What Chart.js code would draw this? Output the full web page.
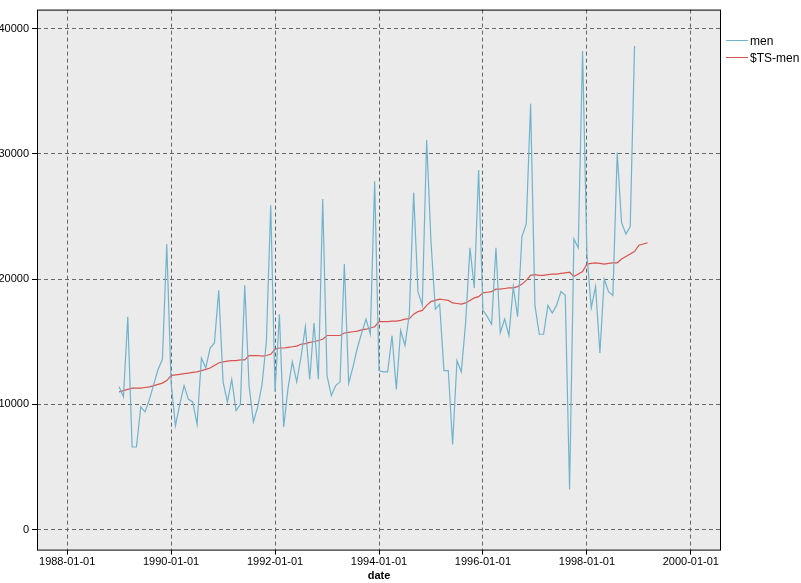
<!DOCTYPE html>
<html><head><meta charset="utf-8">
<script src="https://cdn.jsdelivr.net/npm/chart.js@4"></script>
<style>body{margin:0;background:#fff}#w{position:relative;width:801px;height:583px}
#lg{position:absolute;left:726px;top:32px;font:12px "Liberation Sans",Arial,sans-serif;color:#000}
#lg div{height:17px;display:flex;align-items:center}#lg span{display:inline-block;width:22px;height:1px;margin-right:2px}</style>
</head><body><div id="w"><canvas id="c" width="801" height="583"></canvas>
<div id="lg"><div><span style="background:#6fb3cc"></span>men</div><div><span style="background:#d9534f"></span>$TS-men</div></div></div>
<script>
const startYear = 1989;
const men = [
11400,10600,17000,6600,6600,9800,9400,10400,11600,12800,13600,22800,
11700,8300,10000,11500,10400,10200,8400,13700,12900,14500,14900,19100,
11800,10200,12000,9500,10000,19500,11500,8600,9800,11600,15000,25900,
11000,17200,8200,11300,13400,11800,13800,16200,12000,16500,12000,26400,
12300,10700,11500,11800,21200,11700,13000,14500,15700,16800,15600,27800,
12700,12600,12600,15500,11200,15900,14700,17200,26900,19000,17900,31100,
23000,17600,18000,12700,12700,6800,13500,12600,16500,22500,19300,28700,
17500,17000,16400,22500,15700,16800,15500,19400,17000,23400,24400,34000,
17900,15600,15600,17900,17300,17900,19000,18700,3200,23200,22500,38200,
22000,17700,19400,14100,20000,19000,18700,30100,24500,23600,24200,38600];
const tsMen = [
11000,11100,11200,11300,11300,11300,11350,11400,11500,11600,11700,11900,
12300,12350,12400,12450,12500,12550,12600,12700,12800,12900,13100,13300,
13400,13450,13500,13500,13550,13550,13900,13900,13900,13850,13900,14000,
14400,14500,14500,14550,14600,14650,14800,14850,14950,15000,15100,15200,
15500,15500,15500,15500,15700,15750,15800,15850,15950,16000,16100,16200,
16600,16600,16600,16650,16650,16700,16800,16850,17200,17400,17500,17900,
18200,18300,18400,18350,18300,18100,18050,18000,18100,18300,18500,18600,
18900,18950,19000,19200,19200,19250,19300,19300,19400,19600,19900,20300,
20350,20300,20300,20350,20400,20400,20450,20500,20550,20200,20400,20600,
21200,21250,21300,21250,21200,21250,21300,21300,21600,21800,22000,22200,
22700,22800,22900];
const xTicks = [1988,1990,1992,1994,1996,1998,2000];
const yTicks = [0,10000,20000,30000,40000];
const pts = a => a.map((v,i)=>({x:startYear+i/12, y:v}));
const bg = {id:'bg',beforeDraw(c){const a=c.chartArea,x=c.ctx;x.save();x.fillStyle='#ebebeb';x.fillRect(a.left,a.top,a.right-a.left,a.bottom-a.top);x.restore();},
 afterDraw(c){const a=c.chartArea,x=c.ctx;x.save();x.strokeStyle='#000';x.lineWidth=1;x.strokeRect(a.left+0.5,a.top+0.5,a.right-a.left-1,a.bottom-a.top);x.restore();}};
const font={family:'"Liberation Sans", Arial, sans-serif',size:11};
new Chart(document.getElementById('c'),{type:'line',
data:{datasets:[
 {label:'men',data:pts(men),borderColor:'#6fb3cc',borderWidth:1.2,pointRadius:0,tension:0},
 {label:'$TS-men',data:pts(tsMen),borderColor:'#d9534f',borderWidth:1.2,pointRadius:0,tension:0}]},
options:{responsive:false,animation:false,layout:{padding:{top:0,right:80,left:0,bottom:0}},
 plugins:{legend:{display:false},tooltip:{enabled:false}},
 scales:{
  x:{type:'linear',min:1987.42,max:2000.58,afterBuildTicks(s){s.ticks=xTicks.map(v=>({value:v}));},
   ticks:{font,color:'#000',callback:v=>v+'-01-01',maxRotation:0,padding:1},
   grid:{color:'#666',drawTicks:true,tickLength:5,tickColor:'#000'},border:{display:false,dash:[4,3]},
   title:{display:true,text:'date',font:{...font,weight:'bold'},color:'#000',padding:{top:0,bottom:0}}},
  y:{min:-1590,max:41510,afterBuildTicks(s){s.ticks=yTicks.map(v=>({value:v}));},afterFit(s){s.width=37;},
   ticks:{font,color:'#000',padding:3,callback:v=>String(v)},
   grid:{color:'#666',tickLength:5,tickColor:'#000'},border:{display:false,dash:[4,3]}}}},
plugins:[bg]});
</script></body></html>
